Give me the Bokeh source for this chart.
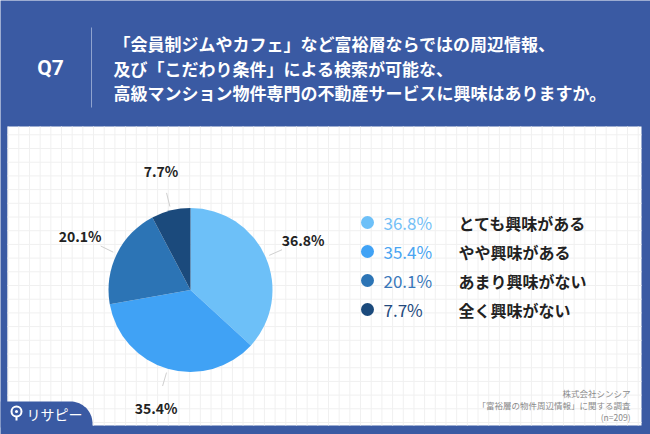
import numpy as np
from bokeh.plotting import figure
from bokeh.models import Range1d
from bokeh.core.properties import value
from bokeh.embed import file_html
from bokeh.resources import INLINE

# ---- data ----
categories = ["とても興味がある", "やや興味がある", "あまり興味がない", "全く興味がない"]
values = [36.8, 35.4, 20.1, 7.7]
pct_labels = ["36.8%", "35.4%", "20.1%", "7.7%"]
question = "Q7"
title_lines = [
    "「会員制ジムやカフェ」など富裕層ならではの周辺情報、",
    "及び「こだわり条件」による検索が可能な、",
    "高級マンション物件専門の不動産サービスに興味はありますか。",
]
footer_lines = ["株式会社シンシア", "「富裕層の物件周辺情報」に関する調査", "(n=209)"]
logo_text = "リサピー"

slice_colors = ["#6DC0F8", "#40A2F5", "#2C74B5", "#1B4A7C"]
legend_pct_colors = ["#74C0F6", "#4AA5F2", "#3A78BA", "#244A7E"]

BLUE = "#3A5AA3"
JP = value("Noto Sans CJK JP")
PAGE_W, PAGE_H = 650, 434


def Y(py):
    return PAGE_H - py


p = figure(width=PAGE_W, height=PAGE_H, x_range=Range1d(0, PAGE_W), y_range=Range1d(0, PAGE_H),
           output_backend="svg", toolbar_location=None, min_border=0,
           x_axis_type=None, y_axis_type=None)
p.grid.visible = False
p.outline_line_color = None
p.background_fill_color = BLUE
p.border_fill_color = BLUE

# white panel
p.quad(left=7, right=641, bottom=Y(425), top=Y(126), fill_color="white", line_color=None)

# faint grid
gx = np.arange(7.6, 641, 10.68)
gy = np.arange(134.3, 425, 13.7)
p.segment(x0=gx, y0=[Y(425)] * len(gx), x1=gx, y1=[Y(126)] * len(gx),
          line_color="#F0F0F0", line_width=1)
p.segment(x0=[7] * len(gy), y0=Y(gy), x1=[641] * len(gy), y1=Y(gy),
          line_color="#F0F0F0", line_width=1)

# header
p.text(x=[50], y=[Y(67)], text=[question], text_font=value("Roboto"),
       text_font_style="bold", text_font_size="21px", text_color="white",
       text_align="center", text_baseline="middle")
p.segment(x0=[91], y0=[Y(27)], x1=[91], y1=[Y(107)], line_color="#8FA3CF", line_width=1)
p.text(x=[113] * 3, y=[Y(43), Y(67.5), Y(92)], text=title_lines, text_font=JP,
       text_font_style="bold", text_font_size="17px", text_color="white",
       text_align="left", text_baseline="middle")

# pie
cx, cy, r = 190, Y(289.5), 82
total = sum(values)
cum = np.concatenate([[0], np.cumsum(values)]) / total * 2 * np.pi
starts = np.pi / 2 - cum[:-1]
ends = np.pi / 2 - cum[1:]
p.wedge(x=cx, y=cy, radius=r, start_angle=starts, end_angle=ends, direction="clock",
        fill_color=slice_colors, line_color=None)

mids = (starts + ends) / 2
p.segment(x0=cx + 86 * np.cos(mids), y0=cy + 86 * np.sin(mids),
          x1=cx + 100 * np.cos(mids), y1=cy + 100 * np.sin(mids),
          line_color="#CFCFCF", line_width=1)
p.text(x=cx + 123 * np.cos(mids), y=cy + 123 * np.sin(mids), text=pct_labels,
       text_font=JP, text_font_style="bold", text_font_size="14px", text_color="#222222",
       text_align="center", text_baseline="middle")

# legend
ly = [Y(222 + 29 * i) for i in range(len(categories))]
p.scatter(x=[367] * len(ly), y=ly, size=13, fill_color=slice_colors, line_color=None)
p.text(x=[383] * len(ly), y=ly, text=pct_labels, text_font=JP, text_font_size="17px",
       text_color=legend_pct_colors, text_align="left", text_baseline="middle")
p.text(x=[458] * len(ly), y=ly, text=categories, text_font=JP, text_font_style="bold",
       text_font_size="16px", text_color="#222222", text_align="left", text_baseline="middle")

# footer
p.text(x=[630] * 3, y=[Y(392), Y(404), Y(416)], text=footer_lines, text_font=JP,
       text_font_size="8.5px", text_color="#8A8A8A", text_align="right", text_baseline="middle")

# logo tab
ang = np.linspace(np.pi / 2, 0, 20)
tab_x = [0, 70] + list(70 + 22 * np.cos(ang)) + [92, 92, 0]
tab_y = [401, 401] + list(423 - 22 * np.sin(ang)) + [423, 427, 427]
p.patch(x=tab_x, y=[Y(v) for v in tab_y], fill_color=BLUE, line_color=None)
p.scatter(x=[16], y=[Y(411)], size=10, fill_color=None, line_color="white", line_width=2)
p.scatter(x=[16], y=[Y(411)], size=3, fill_color="white", line_color=None)
p.segment(x0=[16], y0=[Y(416)], x1=[16], y1=[Y(420)], line_color="white", line_width=2)
p.text(x=[26], y=[Y(413)], text=[logo_text], text_font=JP, text_font_size="14px",
       text_color="white", text_align="left", text_baseline="middle")

open("out.html", "w").write(file_html(p, INLINE))
